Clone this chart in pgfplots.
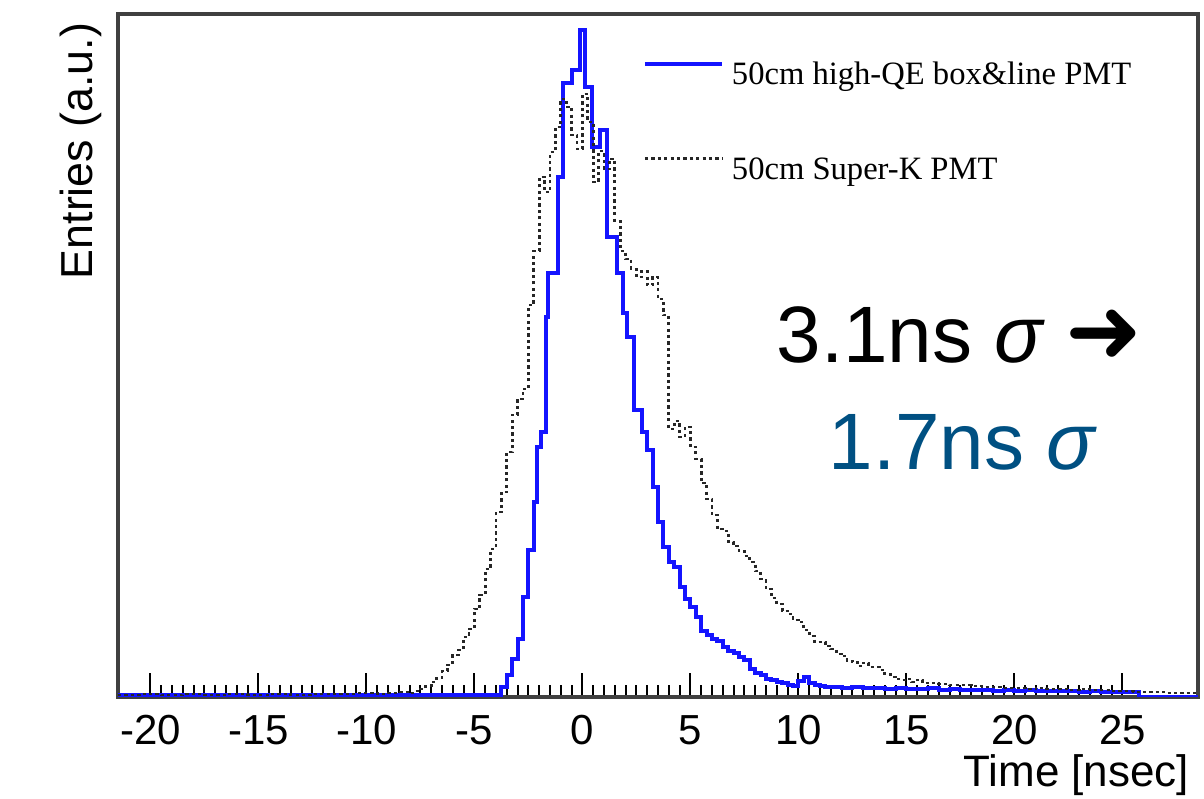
\documentclass[border=0pt]{standalone}
\usepackage{pgfplots}
\pgfplotsset{compat=1.18}
\usepackage{fontspec}
\setmainfont{Liberation Sans}
\newfontfamily\serifleg{Liberation Serif}
\newfontfamily\dejavu{DejaVu Sans}
\definecolor{sigblue}{RGB}{0,80,130}
\definecolor{pmtblue}{RGB}{20,20,255}
\begin{document}
\begin{tikzpicture}
\begin{axis}[
  at={(0,0)}, anchor=south west,
  scale only axis, width=270pt, height=170.75pt,
  xmin=-21.5, xmax=28.5, ymin=0, ymax=683,
  axis line style={line width=1.1pt, black!75},
  xtick={-20,-15,...,25}, minor x tick num=9,
  ytick=\empty,
  xtick pos=bottom,
  tick align=inside,
  major tick length=6pt, minor tick length=3pt,
  tick style={black, line width=0.5pt},
  /pgf/number format/assume math mode=true,
  xticklabel style={font=\fontsize{10.5}{12}\selectfont, anchor=base, yshift=-12pt},
  legend style={draw=none, fill=none, inner sep=0pt, outer sep=0pt,
    at={(axis description cs:0.4861,0.941)}, anchor=north west,
    font=\serifleg\fontsize{8.15}{9.6}\selectfont, row sep=12.75pt,
    /tikz/every even column/.append style={column sep=5pt}},
  legend cell align=left,
  legend image code/.code={\draw[#1] (0pt,3.25pt) -- (19.25pt,3.25pt);},
]
\addplot[const plot, pmtblue, line width=1pt] table {
-21.5 1.5
-20 2
-18.5 1.5
-17 2
-15.5 1.5
-14 2
-12.5 1.5
-11 2
-9.5 1.5
-8 2
-6.5 1.5
-5 2
-4.5 1.5
-4.0 2
-3.75 10
-3.5 22
-3.25 38
-3.0 58
-2.75 100
-2.5 147
-2.25 195
-2.1 250
-1.9 265
-1.7 380
-1.6 424
-1.15 520
-0.9 614
-0.48 627
-0.1 667
0.14 610
0.45 550
0.83 567
1.14 460
1.6 424
1.9 384
2.07 360
2.38 287
2.75 265
3.0 247
3.25 210
3.5 175
3.75 150
4.0 135
4.25 130
4.5 110
4.75 98
5.0 90
5.25 80
5.5 66
5.75 62
6.0 58
6.25 56
6.5 50
6.75 46
7.0 44
7.25 40
7.5 37
7.75 28
8.0 24
8.25 22
8.5 18
8.75 17
9.0 15
9.25 14
9.5 12
9.75 11
10.0 16
10.25 20
10.5 14
10.75 12
11.0 11
11.25 10
11.5 10
11.75 10
12.0 9
12.5 10
13.0 9
13.5 9
14.0 8
14.5 9
15.0 8
15.5 8
16.0 9
16.5 7
17.0 8
17.5 7
18.0 7
18.5 7
19.0 6
19.5 7
20.0 6
20.5 7
21.0 6
21.5 6
22.0 6
22.5 6
23.0 5
23.5 6
24.0 5
24.5 5
25.0 5
25.75 0
28.5 0
};
\addlegendentry{50cm high-QE box\&line PMT}
\addplot[const plot, black!85, line width=0.7pt, dash pattern=on 0.8pt off 0.8pt] table {
-21.5 2
-20.5 3
-19.5 2
-18.5 3
-17.5 2
-16.5 3
-15.5 2
-14.5 3
-13.5 2
-12.5 3
-11.5 3
-10.5 4
-9.5 3
-9.0 4
-8.5 5
-8.0 4
-7.75 6
-7.5 8
-7.25 11
-7.0 15
-6.75 19
-6.5 26
-6.25 32
-6.0 42
-5.75 47
-5.5 60
-5.25 68
-5.0 88
-4.75 102
-4.5 128
-4.25 148
-4.0 185
-3.75 205
-3.5 245
-3.25 282
-3.0 298
-2.75 308
-2.5 392
-2.25 446
-2.0 520
-1.75 505
-1.5 545
-1.25 570
-1.0 598
-0.75 590
-0.5 562
-0.25 548
0.0 603
0.25 575
0.5 515
0.75 546
1.0 528
1.25 538
1.5 476
1.75 446
2.0 438
2.25 428
2.5 420
2.75 426
3.0 412
3.25 420
3.5 398
3.75 382
4.0 268
4.25 276
4.5 260
4.75 270
5.0 250
5.25 238
5.5 214
5.75 198
6.0 182
6.25 168
6.5 166
6.75 155
7.0 151
7.25 146
7.5 141
7.75 135
8.0 126
8.25 118
8.5 108
8.75 99
9.0 93
9.25 86
9.5 83
9.75 77
10.0 75
10.25 67
10.5 61
10.75 55
11.0 55
11.25 51
11.5 48
11.75 43
12.0 41
12.25 36
12.5 35
12.75 31
13.0 34
13.25 30
13.5 30
13.75 27
14.0 23
14.25 20
14.5 18
14.75 17
15.0 18
15.25 15
15.5 17
15.75 14
16.0 14
16.5 13
17.0 12
17.5 12
18.0 11
18.5 10
19.0 10
19.5 9
20.0 9
20.5 8
21.0 9
21.5 8
22.0 8
22.5 7
23.0 8
23.5 7
24.0 7
24.5 6
25.0 6
25.5 5
26.0 5
26.5 5
27.0 4
27.5 4
28.0 4
28.5 4
};
\addlegendentry{50cm Super-K PMT}
\end{axis}
\node[rotate=90, anchor=south east, inner sep=0pt, font=\fontsize{11.2}{13}\selectfont] at (-3.75pt,168.75pt) {Entries (a.u.)};
\node[anchor=base east, inner sep=0pt, font=\fontsize{11}{13}\selectfont] at (268pt,-22.5pt) {Time [nsec]};
\node[anchor=base west, inner sep=0pt, font=\fontsize{20}{23}\selectfont] at (164.5pt,83.5pt) {3.1ns {\itshape σ} {\dejavu\fontsize{23}{26}\selectfont ➜}};
\node[anchor=base west, inner sep=0pt, text=sigblue, font=\fontsize{20}{23}\selectfont] at (177.5pt,56.75pt) {1.7ns {\itshape σ}};
\pgfresetboundingbox
\path (-29.5pt,-25.5pt) rectangle (271.5pt,174.25pt);
\end{tikzpicture}
\end{document}
